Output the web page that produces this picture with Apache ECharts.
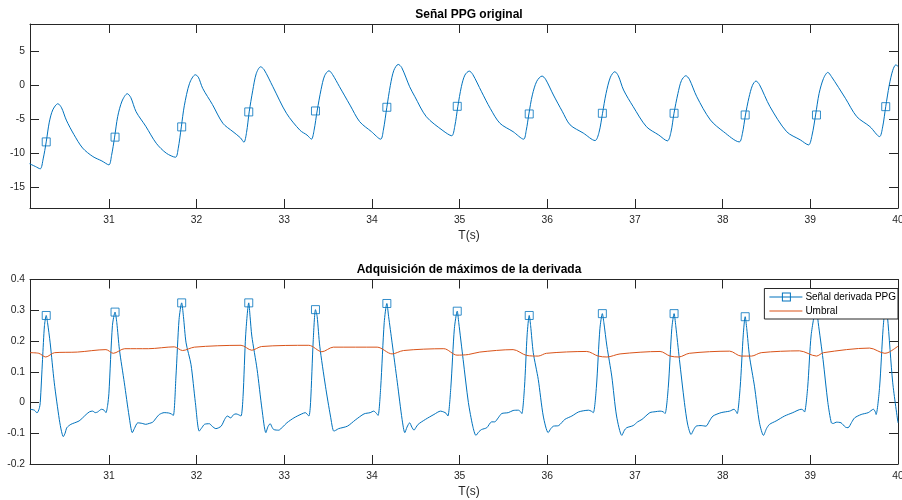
<!DOCTYPE html>
<html>
<head>
<meta charset="utf-8">
<script src="https://cdn.jsdelivr.net/npm/echarts@6/dist/echarts.min.js"></script>
<style>
html,body{margin:0;padding:0;background:#fff;}
#chart{width:902px;height:500px;}
</style>
</head>
<body>
<div id="chart"></div>
<script>
// ---------- DATA ----------
const ppgT = [30.095,30.16,30.217,30.25,30.285,30.32,30.36,30.418,30.46,30.514,30.60,30.70,30.817,30.92,31.0,31.03,31.065,31.10,31.15,31.21,31.25,31.31,31.42,31.54,31.655,31.76,31.79,31.826,31.86,31.92,31.986,32.02,32.07,32.18,32.30,32.415,32.50,32.54,32.57,32.60,32.64,32.68,32.73,32.77,32.87,33.025,33.18,33.26,33.31,33.34,33.375,33.42,33.46,33.51,33.55,33.63,33.75,33.86,33.995,34.10,34.13,34.17,34.21,34.25,34.30,34.34,34.43,34.49,34.62,34.81,34.91,34.945,34.98,35.02,35.06,35.11,35.15,35.25,35.35,35.46,35.61,35.73,35.76,35.79,35.83,35.88,35.94,35.98,36.07,36.17,36.26,36.41,36.545,36.59,36.63,36.67,36.72,36.77,36.81,36.87,36.98,37.13,37.27,37.37,37.41,37.445,37.49,37.53,37.58,37.62,37.705,37.86,38.01,38.19,38.225,38.26,38.30,38.34,38.38,38.42,38.54,38.73,38.885,38.98,39.02,39.06,39.10,39.15,39.20,39.24,39.40,39.53,39.68,39.79,39.825,39.86,39.90,39.94,39.975,40.0];
const ppgV = [-11.5,-11.9,-12.25,-10.8,-8.3,-5.4,-3.6,-2.7,-3.3,-5.1,-7.2,-9.2,-10.45,-11.1,-11.67,-10.3,-7.6,-4.6,-2.3,-1.23,-1.8,-3.87,-6.0,-8.5,-9.96,-10.55,-9.3,-6.1,-3.0,0.3,1.55,1.2,-0.45,-2.8,-5.57,-6.8,-7.7,-8.35,-6.9,-3.9,-0.8,1.7,2.72,2.3,-0.2,-4.1,-6.6,-7.3,-7.9,-6.6,-3.76,-0.6,1.4,2.14,1.6,-0.2,-2.9,-5.33,-6.8,-7.9,-6.6,-3.22,0.0,2.2,3.07,2.6,-0.2,-1.67,-4.6,-6.65,-7.4,-6.0,-3.08,-0.2,1.5,2.09,1.6,-0.94,-3.4,-5.57,-6.8,-7.9,-6.6,-4.2,-1.4,0.6,1.36,0.9,-1.42,-3.8,-5.8,-7.0,-8.1,-6.9,-4.1,-1.2,1.2,2.0,1.4,-0.69,-3.13,-6.06,-7.28,-8.15,-6.9,-4.1,-1.2,0.7,1.41,0.9,-1.67,-5.08,-6.8,-8.3,-7.1,-4.35,-1.8,0.0,0.63,0.1,-3.13,-6.8,-8.0,-8.74,-7.3,-4.35,-1.2,1.0,1.9,1.3,-1.9,-4.6,-6.06,-7.52,-6.1,-3.13,0.0,2.2,3.0,2.8];

const markerT = [30.285,31.07,31.83,32.595,33.356,34.17,34.973,35.794,36.628,37.446,38.257,39.07,39.86];
const ppgMarkerV = [-8.3,-7.6,-6.1,-3.9,-3.76,-3.22,-3.08,-4.2,-4.1,-4.1,-4.35,-4.35,-3.13];
const derivMarkerV = [0.283,0.294,0.324,0.324,0.302,0.322,0.297,0.283,0.289,0.289,0.279,0.31,0.32];

const derivT = [30.10,30.15,30.18,30.205,30.217,30.243,30.265,30.285,30.30,30.33,30.377,30.434,30.46,30.48,30.50,30.52,30.566,30.61,30.66,30.70,30.74,30.78,30.814,30.845,30.87,30.917,30.945,30.966,30.985,31.0,31.04,31.07,31.09,31.12,31.176,31.23,31.267,31.29,31.33,31.38,31.42,31.46,31.5,31.54,31.575,31.63,31.68,31.71,31.735,31.765,31.80,31.83,31.85,31.88,31.936,31.986,32.03,32.06,32.09,32.146,32.18,32.22,32.28,32.32,32.35,32.39,32.42,32.45,32.48,32.507,32.53,32.56,32.595,32.61,32.63,32.69,32.746,32.79,32.815,32.84,32.86,32.88,32.937,32.98,33.03,33.11,33.2,33.24,33.28,33.30,33.33,33.356,33.375,33.405,33.47,33.527,33.565,33.59,33.62,33.72,33.81,33.91,33.98,34.02,34.05,34.07,34.10,34.14,34.17,34.19,34.23,34.29,34.344,34.375,34.40,34.43,34.455,34.48,34.50,34.527,34.61,34.707,34.783,34.82,34.845,34.866,34.90,34.94,34.973,34.99,35.04,35.10,35.15,35.186,35.22,35.25,35.31,35.365,35.40,35.44,35.48,35.555,35.61,35.67,35.695,35.71,35.74,35.77,35.794,35.81,35.84,35.897,35.954,36.01,36.04,36.07,36.13,36.2,36.28,36.354,36.41,36.47,36.50,36.525,36.56,36.60,36.628,36.645,36.68,36.735,36.79,36.85,36.88,36.906,36.98,37.03,37.08,37.17,37.23,37.286,37.32,37.343,37.38,37.42,37.446,37.465,37.507,37.564,37.60,37.64,37.67,37.697,37.755,37.81,37.85,37.89,37.983,38.08,38.13,38.15,38.166,38.20,38.235,38.257,38.275,38.306,38.363,38.42,38.466,38.50,38.535,38.61,38.706,38.8,38.896,38.92,38.934,38.97,39.01,39.07,39.09,39.145,39.2,39.24,39.265,39.295,39.35,39.40,39.43,39.47,39.505,39.58,39.66,39.72,39.74,39.75,39.79,39.83,39.86,39.88,39.94,40.0];
const derivV = [-0.022,-0.025,-0.034,-0.02,0.0,0.14,0.25,0.283,0.26,0.194,0.064,-0.055,-0.095,-0.111,-0.10,-0.082,-0.071,-0.066,-0.06,-0.05,-0.039,-0.03,-0.028,-0.033,-0.031,-0.022,-0.025,-0.033,-0.01,0.03,0.25,0.294,0.26,0.172,0.064,-0.044,-0.098,-0.085,-0.066,-0.068,-0.071,-0.068,-0.064,-0.05,-0.039,-0.033,-0.034,-0.037,-0.042,0.086,0.27,0.324,0.28,0.194,0.124,0.0,-0.093,-0.082,-0.071,-0.069,-0.078,-0.085,-0.077,-0.055,-0.044,-0.05,-0.04,-0.037,-0.04,-0.044,0.02,0.22,0.324,0.28,0.216,0.108,-0.022,-0.098,-0.078,-0.069,-0.08,-0.088,-0.09,-0.08,-0.066,-0.05,-0.037,-0.033,-0.044,0.0,0.2,0.302,0.28,0.183,0.053,-0.044,-0.093,-0.09,-0.085,-0.077,-0.057,-0.037,-0.033,-0.028,-0.035,-0.042,0.05,0.26,0.322,0.28,0.194,0.064,-0.055,-0.098,-0.08,-0.066,-0.08,-0.09,-0.082,-0.071,-0.055,-0.039,-0.028,-0.031,-0.035,-0.044,0.05,0.24,0.297,0.26,0.14,0.0,-0.077,-0.107,-0.095,-0.088,-0.082,-0.063,-0.063,-0.05,-0.036,-0.033,-0.026,-0.025,-0.03,-0.036,0.05,0.22,0.283,0.25,0.162,0.075,-0.044,-0.098,-0.085,-0.077,-0.075,-0.055,-0.044,-0.031,-0.027,-0.025,-0.028,-0.033,0.05,0.24,0.289,0.26,0.183,0.086,-0.044,-0.107,-0.09,-0.082,-0.075,-0.063,-0.055,-0.033,-0.03,-0.028,-0.03,-0.036,0.05,0.24,0.289,0.25,0.14,0.0,-0.07,-0.104,-0.088,-0.077,-0.075,-0.077,-0.06,-0.044,-0.033,-0.028,-0.022,-0.028,-0.036,0.05,0.22,0.279,0.24,0.151,0.053,-0.066,-0.107,-0.085,-0.071,-0.06,-0.044,-0.033,-0.022,-0.025,-0.031,0.05,0.22,0.31,0.26,0.14,0.0,-0.066,-0.068,-0.064,-0.066,-0.08,-0.082,-0.065,-0.05,-0.039,-0.033,-0.022,-0.03,-0.039,0.05,0.24,0.32,0.28,0.064,-0.066];

const umbralT = [30.10,30.20,30.28,30.38,30.64,30.966,31.05,31.18,31.45,31.746,31.84,31.975,32.507,32.63,32.74,33.28,33.43,33.56,34.06,34.23,34.36,34.82,34.97,35.1,35.23,35.61,35.765,35.897,35.99,36.45,36.58,36.68,36.83,37.286,37.4,37.5,37.62,38.08,38.21,38.33,38.44,38.877,39.07,39.15,39.676,39.85,39.9,40.0];
const umbralV = [0.162,0.160,0.148,0.162,0.164,0.172,0.16,0.175,0.175,0.181,0.169,0.18,0.186,0.17,0.182,0.186,0.165,0.18,0.18,0.158,0.169,0.175,0.154,0.156,0.164,0.172,0.153,0.151,0.16,0.166,0.151,0.148,0.158,0.166,0.151,0.148,0.16,0.167,0.151,0.151,0.162,0.168,0.151,0.162,0.177,0.16,0.164,0.183];

const xTicks = [31,32,33,34,35,36,37,38,39,40];
const yTicksTop = [-15,-10,-5,0,5];

const titleTop = 'Señal PPG original';
const titleBottom = 'Adquisición de máximos de la derivada';
const xLabel = 'T(s)';
const nameDeriv = 'Señal derivada PPG';
const nameUmbral = 'Umbral';
// -------------------------------------------------------------

const BLUE = '#0072BD', ORANGE = '#D95319', AX = '#262626';
const FONT = 'Liberation Sans, Arial, Helvetica, sans-serif';
const zip = (a, b) => a.map((t, i) => [t, b[i]]);

function xAx(grid, pos, labels) {
  return {
    type: 'value', gridIndex: grid, position: pos, min: 30.1, max: 40,
    axisLine: {show: true, onZero: false, lineStyle: {color: AX, width: 1}},
    axisTick: {show: true, inside: true, length: 9, customValues: xTicks, lineStyle: {color: AX}},
    axisLabel: {show: labels, customValues: xTicks, color: AX, fontSize: 10.3, fontFamily: FONT, margin: 7},
    splitLine: {show: false}
  };
}
function yAx(grid, pos, labels, extra) {
  return Object.assign({
    type: 'value', gridIndex: grid, position: pos,
    axisLine: {show: true, onZero: false, lineStyle: {color: AX, width: 1}},
    axisTick: {show: true, inside: true, length: 9, lineStyle: {color: AX}},
    axisLabel: {show: labels, color: AX, fontSize: 10.3, fontFamily: FONT, margin: 5},
    splitLine: {show: false}
  }, extra);
}
const topY = {min: -18, max: 9};
const botY = {min: -0.2, max: 0.4, interval: 0.1};
function withCustom(o, vals) {
  o.axisTick.customValues = vals; o.axisLabel.customValues = vals; return o;
}

const iconSq = 'path://M0,4.5 L33,4.5 L33,5.5 L0,5.5 Z M12.5,0.5 L21.5,0.5 L21.5,9.5 L12.5,9.5 Z M13.5,1.5 L13.5,8.5 L20.5,8.5 L20.5,1.5 Z';
const iconLn = 'path://M0,4.5 L33,4.5 L33,5.5 L0,5.5 Z';

const chart = echarts.init(document.getElementById('chart'), null, {renderer: 'canvas'});
chart.setOption({
  animation: false,
  backgroundColor: '#fff',
  grid: [
    {left: 30, top: 24, width: 868, height: 184, outerBoundsMode: 'none', containLabel: false},
    {left: 30, top: 279.5, width: 868, height: 184.5, outerBoundsMode: 'none', containLabel: false}
  ],
  xAxis: [xAx(0, 'bottom', true), xAx(0, 'top', false), xAx(1, 'bottom', true), xAx(1, 'top', false)],
  yAxis: [
    withCustom(yAx(0, 'left', true, topY), yTicksTop),
    withCustom(yAx(0, 'right', false, topY), yTicksTop),
    yAx(1, 'left', true, botY),
    yAx(1, 'right', false, botY)
  ],
  legend: {
    data: [{name: nameDeriv, icon: iconSq}, {name: nameUmbral, icon: iconLn}],
    orient: 'vertical', right: 4, top: 288.5,
    backgroundColor: '#fff', borderColor: AX, borderWidth: 1, borderRadius: 0,
    padding: [2.5, 2, 2, 5], itemGap: 2, itemWidth: 33, itemHeight: 10,
    itemStyle: {borderWidth: 0},
    textStyle: {fontSize: 10, lineHeight: 12, color: '#000', fontFamily: FONT, padding: [0, 0, 0, -2]},
    selectedMode: false
  },
  graphic: [
    {type: 'text', x: 469, y: 14.5, style: {text: titleTop, font: 'bold 12px ' + FONT, fill: '#000', align: 'center', verticalAlign: 'middle'}},
    {type: 'text', x: 469, y: 270, style: {text: titleBottom, font: 'bold 12px ' + FONT, fill: '#000', align: 'center', verticalAlign: 'middle'}},
    {type: 'text', x: 469, y: 235.5, style: {text: xLabel, font: '12px ' + FONT, fill: AX, align: 'center', verticalAlign: 'middle'}},
    {type: 'text', x: 469, y: 492, style: {text: xLabel, font: '12px ' + FONT, fill: AX, align: 'center', verticalAlign: 'middle'}}
  ],
  series: [
    {name: 'PPG', type: 'line', xAxisIndex: 0, yAxisIndex: 0, data: zip(ppgT, ppgV),
     symbol: 'none', smooth: 0.3, lineStyle: {color: BLUE, width: 1}, itemStyle: {color: BLUE}},
    {name: 'PPG marcas', type: 'scatter', xAxisIndex: 0, yAxisIndex: 0, data: zip(markerT, ppgMarkerV),
     symbol: 'rect', symbolSize: 8, itemStyle: {color: 'rgba(0,0,0,0)', borderColor: BLUE, borderWidth: 1}},
    {name: nameDeriv, type: 'line', xAxisIndex: 2, yAxisIndex: 2, data: zip(derivT, derivV),
     symbol: 'none', smooth: 0.25, lineStyle: {color: BLUE, width: 1}, itemStyle: {color: BLUE}},
    {name: nameUmbral, type: 'line', xAxisIndex: 2, yAxisIndex: 2, data: zip(umbralT, umbralV),
     symbol: 'none', smooth: 0.3, lineStyle: {color: ORANGE, width: 1}, itemStyle: {color: ORANGE}},
    {name: nameDeriv, type: 'scatter', xAxisIndex: 2, yAxisIndex: 2, data: zip(markerT, derivMarkerV),
     symbol: 'rect', symbolSize: 8, itemStyle: {color: 'rgba(0,0,0,0)', borderColor: BLUE, borderWidth: 1}}
  ]
});
</script>
</body>
</html>
